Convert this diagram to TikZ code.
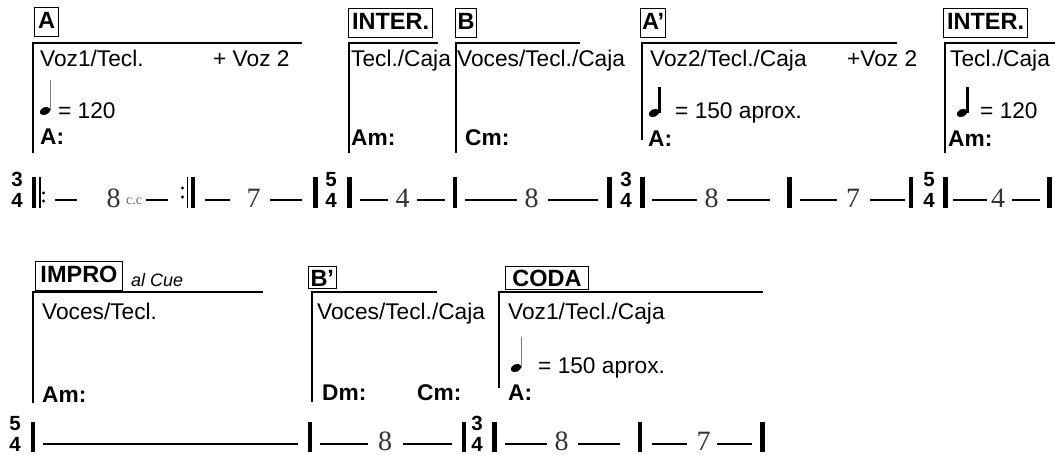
\documentclass[tikz,border=0pt]{standalone}
\usepackage{fontspec}
\setmainfont{Liberation Sans}
\newfontfamily\numfont{Liberation Serif}
\usepackage{tikz}
\usetikzlibrary{positioning}

\newcommand{\txtsize}{\fontsize{22.7}{26}\selectfont}
\newcommand{\qnote}[4]{%
  \fill (#1,#2) ellipse [x radius=5.5pt, y radius=3.8pt, rotate=25];
  \draw[#4] (#1+5.5,#2) -- (#1+5.5,#3);}

\begin{document}
\begin{tikzpicture}[x=1pt, y=-1pt,
    txt/.style={anchor=base west, inner sep=0pt, font=\txtsize},
    chd/.style={txt, font=\txtsize\bfseries},
    lbl/.style={draw, line width=1pt, anchor=south west, inner xsep=3.5pt, inner ysep=4pt,
      text height=17pt, text depth=4pt, font=\fontsize{23.5}{26}\selectfont\bfseries},
    brk/.style={line width=1.6pt},
    bar/.style={line width=4.5pt},
    thinbar/.style={line width=1.5pt},
    rule/.style={line width=1.8pt},
    num/.style={anchor=base, inner sep=0pt, text=black!80, font=\fontsize{28}{30}\selectfont\numfont},
    tsig/.style={anchor=south, inner sep=0pt, align=center, font=\fontsize{20.5}{21}\selectfont\bfseries}]

    \path[fill=white, use as bounding box] (0,0) rectangle (1055,457);

    \node[lbl] (lA) at (34,37) {A};
    \node[lbl] (lI1) at (348,38) {INTER.};
    \node[lbl, inner xsep=2pt] (lB) at (455,38) {B};
    \node[lbl, inner xsep=1.5pt] (lAp) at (640,38) {A’};
    \node[lbl] (lI2) at (943,38) {INTER.};

    \draw[brk] (33,153) |- (302,43) (349,153) |- (438,43) (456,153) |- (580,43)
      (642,140) |- (897,43) (945,153) |- (1055,43);

    \node[txt] (iA) at (40,67) {Voz1/Tecl.};
    \node[txt] (iA2) at (213,67) {+ Voz 2};
    \node[txt] (tA) at (58,119) {= 120};
    \node[chd] (cA) at (40,145) {A:};
    \node[txt] (iI1) at (351,67) {Tecl./Caja};
    \node[chd] (cI1) at (351,146) {Am:};
    \node[txt] (iB) at (457,67) {Voces/Tecl./Caja};
    \node[chd] (cB) at (465,146) {Cm:};
    \node[txt] (iAp) at (650,67) {Voz2/Tecl./Caja};
    \node[txt] (iAp2) at (847,67) {+Voz 2};
    \node[txt] (tAp) at (675,119) {= 150 aprox.};
    \node[chd] (cAp) at (648,147) {A:};
    \node[txt] (iI2) at (950,67) {Tecl./Caja};
    \node[txt] (tI2) at (980,119) {= 120};
    \node[chd] (cI2) at (948,147) {Am:};

    \qnote{45}{111}{80}{line width=0.8pt, gray}
    \qnote{654}{113}{87}{line width=2.5pt}
    \qnote{962}{113}{87}{line width=2.5pt}

    \node[tsig] (s1) at (17,207.5) {3\\4};
    \node[tsig] (s2) at (331,207.5) {5\\4};
    \node[tsig] (s3) at (626,207.5) {3\\4};
    \node[tsig] (s4) at (929,207.5) {5\\4};

    \draw[bar] (34.2,177) -- (34.2,208) (193,177) -- (193,208)
      (315.5,177) -- (315.5,208) (349.5,177) -- (349.5,208) (455,177) -- (455,208)
      (609.5,177) -- (609.5,208) (642.5,177) -- (642.5,208) (789.5,177) -- (789.5,208)
      (911,177) -- (911,208) (945.5,177) -- (945.5,208) (1049.5,177) -- (1049.5,208);
    \draw[thinbar] (39.8,177) -- (39.8,208) (187.5,177) -- (187.5,208);
    \fill (43.5,193) circle (1.7pt) (43.5,201) circle (1.7pt)
      (182.5,188) circle (1.7pt) (182.5,197) circle (1.7pt);

    \draw[rule] (55,200) -- (77,200) (146,200) -- (168,200) (205,200) -- (230,200)
      (270,200) -- (302,200) (360,200) -- (388,200) (417,200) -- (445,200)
      (465,200) -- (517,200) (548,200) -- (598,200) (652,200) -- (697,200)
      (727,200) -- (770,200) (800,200) -- (837,200) (870,200) -- (905,200)
      (953,200) -- (987,200) (1012,200) -- (1040,200);

    \node[num] (n1) at (113.5,208) {8};
    \node[anchor=base west, inner sep=0pt, text=black!60, font=\fontsize{14}{16}\selectfont\numfont] (cc) at (126,205) {c.c};
    \node[num] (n2) at (253.5,208) {7};
    \node[num] (n3) at (402.5,208) {4};
    \node[num] (n4) at (531.5,208) {8};
    \node[num] (n5) at (711.5,208) {8};
    \node[num] (n6) at (853,208) {7};
    \node[num] (n7) at (998,208) {4};

    \node[lbl, minimum width=87pt] (lImp) at (35,291) {IMPRO};
    \node[anchor=base west, inner sep=0pt, font=\fontsize{18}{20}\selectfont\itshape] (cue) at (131,286) {al Cue};
    \node[lbl, text depth=0pt, inner ysep=2.5pt, inner xsep=2pt] (lBp) at (308,289) {B’};
    \node[lbl, text depth=0pt, inner ysep=3pt, minimum width=83pt] (lCoda) at (505,290) {CODA};

    \draw[brk] (33,403) |- (263,292) (312,402) |- (437,292) (499,388) |- (763,292);

    \node[txt] (iImp) at (42,319) {Voces/Tecl.};
    \node[chd] (cImp) at (42,402) {Am:};
    \node[txt] (iBp) at (317,319) {Voces/Tecl./Caja};
    \node[chd] (cBp1) at (322,400) {Dm:};
    \node[chd] (cBp2) at (417,400) {Cm:};
    \node[txt] (iCoda) at (508,319) {Voz1/Tecl./Caja};
    \node[txt] (tCoda) at (538,373) {= 150 aprox.};
    \node[chd] (cCoda) at (508,400) {A:};

    \qnote{516}{368}{337}{line width=0.8pt, gray}

    \node[tsig] (s5) at (15,451.5) {5\\4};
    \node[tsig] (s6) at (477,451.5) {3\\4};

    \draw[bar] (33,422) -- (33,452) (310,422) -- (310,452) (464,422) -- (464,452)
      (494.5,422) -- (494.5,452) (640,422) -- (640,452) (762.5,422) -- (762.5,452);
    \draw[rule] (43,444) -- (298,444) (320,444) -- (368,444) (403,444) -- (452,444)
      (505,444) -- (547,444) (578,444) -- (620,444) (652,444) -- (687,444)
      (717,444) -- (752,444);

    \node[num] (n8) at (385,450.5) {8};
    \node[num] (n9) at (561.5,450.5) {8};
    \node[num] (n10) at (703.5,450.5) {7};
\end{tikzpicture}
\end{document}
